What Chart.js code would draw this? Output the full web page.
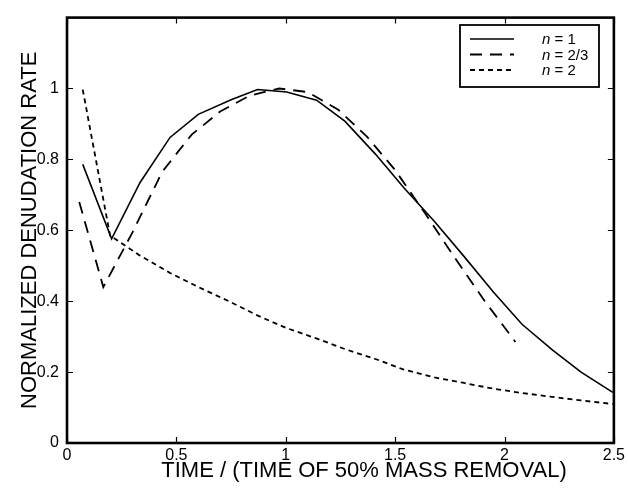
<!DOCTYPE html>
<html>
<head>
<meta charset="utf-8">
<script src="https://cdn.jsdelivr.net/npm/chart.js@4/dist/chart.umd.min.js"></script>
<style>
  html, body { margin: 0; padding: 0; background: #fff; }
  #wrap { width: 628px; height: 489px; }
</style>
</head>
<body>
<div id="wrap"><canvas id="chart"></canvas></div>
<script>
// n = 1
const timeN1 = [0.072, 0.204, 0.334, 0.471, 0.6, 0.753, 0.871, 1.004, 1.141, 1.27, 1.41, 1.54, 1.68, 1.81, 1.95, 2.08, 2.22, 2.35, 2.495]
const rateN1 = [0.786, 0.576, 0.735, 0.862, 0.927, 0.969, 0.997, 0.99, 0.967, 0.908, 0.815, 0.72, 0.625, 0.53, 0.425, 0.335, 0.262, 0.2, 0.143]

// n = 2/3
const timeN23 = [0.056, 0.166, 0.3, 0.435, 0.57, 0.7, 0.835, 0.97, 1.1, 1.24, 1.37, 1.5, 1.64, 1.77, 1.91, 2.05]
const rateN23 = [0.68, 0.44, 0.595, 0.765, 0.87, 0.935, 0.98, 1.0, 0.99, 0.94, 0.865, 0.77, 0.645, 0.525, 0.4, 0.285]

// n = 2
const timeN2 = [0.072, 0.197, 0.33, 0.47, 0.6, 0.74, 0.87, 1.0, 1.14, 1.27, 1.41, 1.54, 1.68, 1.81, 1.95, 2.08, 2.22, 2.35, 2.495]
const rateN2 = [0.997, 0.585, 0.53, 0.48, 0.44, 0.4, 0.36, 0.325, 0.295, 0.265, 0.237, 0.207, 0.185, 0.17, 0.153, 0.141, 0.13, 0.12, 0.11]

const seriesLabels = ['1', '2/3', '2']
const xTicks = [0, 0.5, 1, 1.5, 2, 2.5]
const yTicks = [0, 0.2, 0.4, 0.6, 0.8, 1]
const xTitle = 'TIME / (TIME OF 50% MASS REMOVAL)'

const FONT = '"Liberation Sans", Arial, Helvetica, sans-serif'

const pts = (xs, ys) => xs.map((x, i) => ({ x, y: ys[i] }))

// frame, inward ticks on all four sides, x title (sits right of centre) and the boxed legend
const framePlugin = {
  id: 'frame',
  afterDraw(chart) {
    const { ctx, chartArea: a, scales } = chart
    const len = 6
    ctx.save()
    ctx.strokeStyle = '#000'
    ctx.lineWidth = 1.2
    ctx.beginPath()
    xTicks.forEach(v => {
      const px = Math.round(scales.x.getPixelForValue(v)) + 0.5
      ctx.moveTo(px, a.bottom); ctx.lineTo(px, a.bottom - len)
      ctx.moveTo(px, a.top); ctx.lineTo(px, a.top + len)
    })
    yTicks.forEach(v => {
      const py = Math.round(scales.y.getPixelForValue(v)) + 0.5
      ctx.moveTo(a.left, py); ctx.lineTo(a.left + len, py)
      ctx.moveTo(a.right, py); ctx.lineTo(a.right - len, py)
    })
    ctx.stroke()
    ctx.lineWidth = 2.6
    ctx.strokeRect(a.left, a.top, a.right - a.left, a.bottom - a.top)

    ctx.fillStyle = '#000'
    ctx.font = '22px ' + FONT
    ctx.textAlign = 'center'
    ctx.textBaseline = 'middle'
    ctx.fillText(xTitle, 364, 471)
    ctx.textAlign = 'left'

    // legend
    const bx = 460, by = 25, bw = 139, bh = 62
    ctx.fillStyle = '#fff'
    ctx.fillRect(bx, by, bw, bh)
    ctx.lineWidth = 1.8
    ctx.strokeRect(bx, by, bw, bh)
    chart.data.datasets.forEach((ds, i) => {
      const y = by + 14 + i * 15.5
      ctx.beginPath()
      ctx.setLineDash(ds.borderDash || [])
      ctx.lineWidth = ds.borderWidth
      ctx.moveTo(470, y); ctx.lineTo(514, y)
      ctx.stroke()
      ctx.setLineDash([])
      ctx.fillStyle = '#000'
      ctx.font = 'italic 15px ' + FONT
      ctx.fillText('n', 542, y + 1)
      const w = ctx.measureText('n').width
      ctx.font = '15px ' + FONT
      ctx.fillText(' = ' + seriesLabels[i], 542 + w, y + 1)
    })
    ctx.restore()
  }
}

const baseLine = { borderColor: '#000', backgroundColor: '#000', pointRadius: 0, showLine: true, tension: 0, fill: false }

new Chart(document.getElementById('chart'), {
  type: 'scatter',
  data: {
    datasets: [
      { ...baseLine, label: 'n = 1', data: pts(timeN1, rateN1), borderWidth: 1.6 },
      { ...baseLine, label: 'n = 2/3', data: pts(timeN23, rateN23), borderWidth: 1.8, borderDash: [12, 8] },
      { ...baseLine, label: 'n = 2', data: pts(timeN2, rateN2), borderWidth: 1.8, borderDash: [5, 4] },
    ],
  },
  options: {
    responsive: true,
    maintainAspectRatio: false,
    animation: false,
    layout: { padding: { top: 11, right: 14, left: 0, bottom: 0 } },
    scales: {
      x: {
        type: 'linear',
        min: 0,
        max: 2.5,
        afterFit: s => { s.height = 46 },
        afterBuildTicks: s => { s.ticks = xTicks.map(value => ({ value })) },
        ticks: { color: '#000', padding: 3, maxRotation: 0, font: { family: FONT, size: 16 }, callback: v => String(v) },
        grid: { display: false, drawTicks: false },
        border: { display: false },
      },
      y: {
        type: 'linear',
        min: 0,
        max: 1.2,
        afterFit: s => { s.width = 67 },
        afterBuildTicks: s => { s.ticks = yTicks.map(value => ({ value })) },
        ticks: { color: '#000', padding: 8, font: { family: FONT, size: 16 }, callback: v => String(v) },
        grid: { display: false, drawTicks: false },
        border: { display: false },
        title: { display: true, text: 'NORMALIZED DENUDATION RATE', color: '#000', font: { family: FONT, size: 22 }, padding: { top: 17, bottom: 0 } },
      },
    },
    plugins: {
      legend: { display: false },
      tooltip: { enabled: false },
    },
  },
  plugins: [framePlugin],
})
</script>
</body>
</html>
